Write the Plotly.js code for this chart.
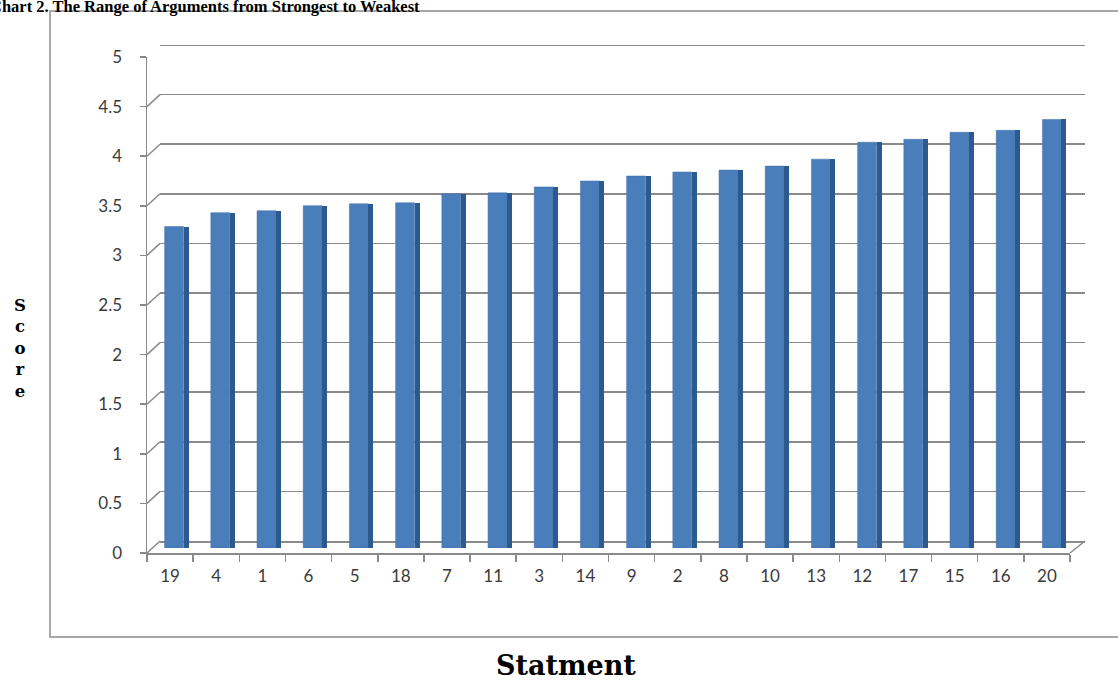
<!DOCTYPE html>
<html>
<head>
<meta charset="utf-8">
<script src="https://cdn.plot.ly/plotly-3.0.1.min.js"></script>
<style>
  html, body { margin: 0; padding: 0; background: #ffffff; }
  #chart { width: 1118px; height: 682px; }
</style>
</head>
<body>
<div id="chart"></div>
<script>
// ---- data ----
const statements = ["19","4","1","6","5","18","7","11","3","14","9","2","8","10","13","12","17","15","16","20"];
const scores = [3.24, 3.38, 3.40, 3.45, 3.47, 3.48, 3.57, 3.58, 3.64, 3.70, 3.75, 3.79, 3.81, 3.85, 3.92, 4.09, 4.12, 4.19, 4.21, 4.32];
const yTicks = [0, 0.5, 1, 1.5, 2, 2.5, 3, 3.5, 4, 4.5, 5];
const yTickText = ["0", "0.5", "1", "1.5", "2", "2.5", "3", "3.5", "4", "4.5", "5"];

const W = 1118, H = 682;
const px = x => x / W;
const py = y => 1 - y / H;

const gridColor = '#8a8a8a';
const tickFont = { family: 'Lato, "Open Sans", sans-serif', size: 17, color: '#3a3a3a' };

const traces = [
  // front faces
  {
    type: 'bar', x: statements, y: scores, xaxis: 'x3', yaxis: 'y3',
    width: 0.41, offset: -0.205,
    marker: { color: '#4a7ebb', line: { color: '#3f6fa8', width: 0.5 } },
    hoverinfo: 'x+y', showlegend: false
  },
  // side faces
  {
    type: 'bar', x: statements, y: scores, xaxis: 'x3', yaxis: 'y3',
    width: 0.11, offset: 0.205,
    marker: { color: '#2c5a8e', line: { width: 0 } },
    hoverinfo: 'skip', showlegend: false
  },
  // invisible trace for the back wall axes
  {
    type: 'scatter', mode: 'markers', x: statements, y: scores, xaxis: 'x2', yaxis: 'y2',
    marker: { opacity: 0 }, hoverinfo: 'skip', showlegend: false
  },
  // invisible trace for the front axes
  {
    type: 'scatter', mode: 'markers', x: statements, y: scores, xaxis: 'x', yaxis: 'y',
    marker: { opacity: 0 }, hoverinfo: 'skip', showlegend: false
  }
];

const shapes = [];
// chart frame
shapes.push({ type: 'rect', xref: 'paper', yref: 'paper',
  x0: px(50), x1: px(1140), y0: py(637), y1: py(11),
  line: { color: '#a8a8a8', width: 2 }, fillcolor: 'rgba(0,0,0,0)', layer: 'below' });
// diagonal stubs from front axis to back wall
const depthVal = 12 / 99.2;
yTicks.forEach(v => {
  shapes.push({ type: 'line', xref: 'paper', yref: 'y',
    x0: px(147), x1: px(160), y0: v, y1: v + depthVal,
    line: { color: gridColor, width: 1.5 } });
});
// top back gridline (edge of range)
shapes.push({ type: 'line', xref: 'x2 domain', yref: 'y2',
  x0: 0, x1: 1, y0: yTicks[yTicks.length - 1], y1: yTicks[yTicks.length - 1],
  line: { color: gridColor, width: 2 } });
// floor right edge
shapes.push({ type: 'line', xref: 'paper', yref: 'y',
  x0: px(1070), x1: px(1085), y0: 0, y1: depthVal,
  line: { color: gridColor, width: 1.5 } });

const annotations = [
  {
    text: 'Chart 2. The Range of Arguments from Strongest to Weakest',
    xref: 'paper', yref: 'paper', x: px(-12), y: py(18),
    xanchor: 'left', yanchor: 'bottom', showarrow: false,
    font: { family: '"Liberation Serif", "Times New Roman", serif', size: 16.5, color: '#000000', weight: 'bold' }
  },
  {
    text: 'S<br>c<br>o<br>r<br>e',
    xref: 'paper', yref: 'paper', x: px(20), y: py(348),
    xanchor: 'center', yanchor: 'middle', showarrow: false,
    font: { family: '"DejaVu Serif", serif', size: 16.5, color: '#000000', weight: 'bold' }
  },
  {
    text: 'Statment',
    xref: 'paper', yref: 'paper', x: px(566), y: py(665),
    xanchor: 'center', yanchor: 'middle', showarrow: false,
    font: { family: '"DejaVu Serif", serif', size: 27, color: '#000000', weight: 'bold' }
  }
];

const layout = {
  width: W, height: H,
  margin: { l: 0, r: 0, t: 0, b: 0 },
  paper_bgcolor: '#ffffff',
  plot_bgcolor: 'rgba(0,0,0,0)',
  showlegend: false,
  bargap: 0,
  // front axes (ticks and labels)
  xaxis: {
    domain: [px(147), px(1070)], anchor: 'y',
    type: 'category', range: [-0.5, 19.5],
    showgrid: false, zeroline: false,
    showline: true, linecolor: gridColor, linewidth: 1.5,
    ticks: 'outside', ticklen: 7, tickcolor: gridColor, tickwidth: 1.5,
    tickson: 'boundaries',
    tickfont: tickFont, ticklabelstandoff: 7,
    fixedrange: true
  },
  yaxis: {
    domain: [py(553), py(57)], anchor: 'x',
    range: [0, 5], tickvals: yTicks, ticktext: yTickText,
    showgrid: false, zeroline: false,
    showline: true, linecolor: gridColor, linewidth: 1.5,
    ticks: 'outside', ticklen: 6, tickcolor: gridColor, tickwidth: 1.5,
    tickfont: tickFont, ticklabelstandoff: 14,
    fixedrange: true
  },
  // back wall (gridlines and floor back edge)
  xaxis2: {
    domain: [px(160), px(1085)], anchor: 'y2',
    type: 'category', range: [-0.5, 19.5],
    showgrid: false, zeroline: false, showticklabels: false, ticks: '',
    showline: true, linecolor: gridColor, linewidth: 1.5,
    fixedrange: true
  },
  yaxis2: {
    domain: [py(541), py(45)], anchor: 'x2',
    range: [0, 5], tickvals: yTicks,
    showgrid: true, gridcolor: gridColor, gridwidth: 1.5,
    zeroline: false, showticklabels: false, ticks: '', showline: false,
    fixedrange: true
  },
  // bars (mid depth)
  xaxis3: {
    domain: [px(151), px(1075)], anchor: 'y3',
    type: 'category', range: [-0.5, 19.5],
    visible: false, fixedrange: true
  },
  yaxis3: {
    domain: [py(548), py(52)], anchor: 'x3',
    range: [0, 5], visible: false, fixedrange: true
  },
  shapes: shapes,
  annotations: annotations
};

Plotly.newPlot('chart', traces, layout, { displayModeBar: false, staticPlot: true });
</script>
</body>
</html>
